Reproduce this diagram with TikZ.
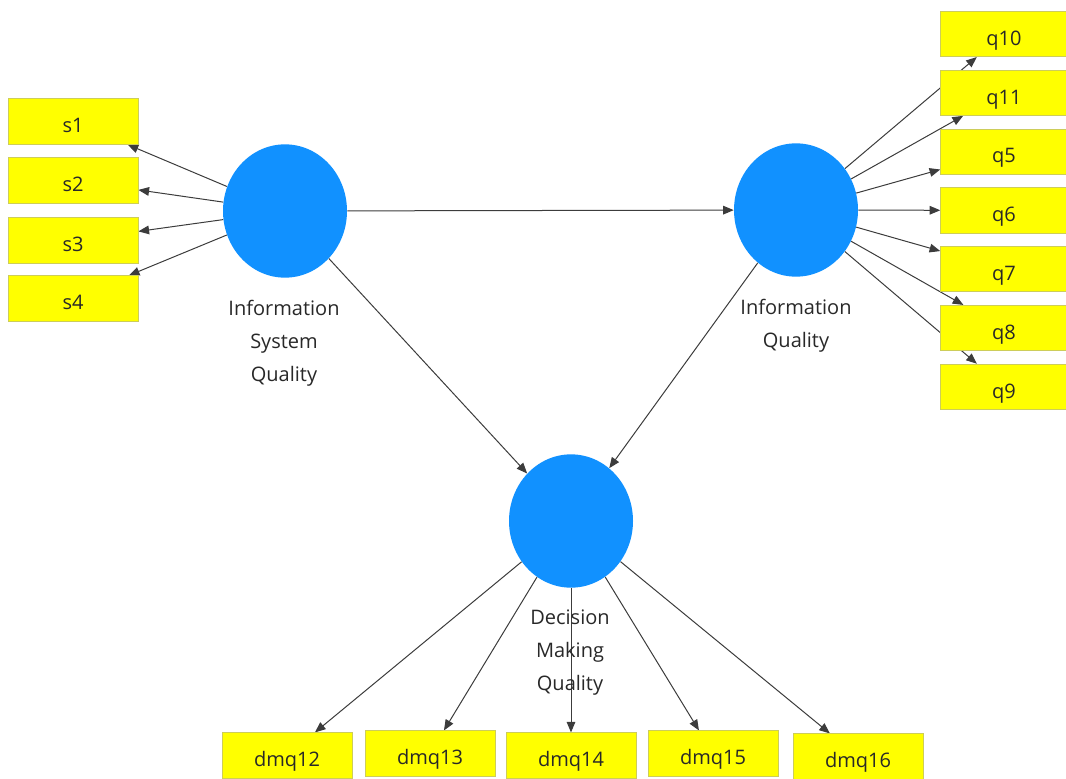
\documentclass[tikz,border=0pt]{standalone}
\usepackage{fontspec}
\setmainfont{Open Sans}
\usepackage{tikz}
\usetikzlibrary{shapes.geometric,arrows.meta,backgrounds}
\definecolor{latentblue}{RGB}{17,145,255}
\definecolor{itemyellow}{RGB}{255,255,0}
\definecolor{itemedge}{RGB}{205,205,90}
\definecolor{pathgray}{RGB}{60,60,60}
\definecolor{labelgray}{RGB}{40,40,40}

\begin{document}
\begin{tikzpicture}[x=0.75pt,y=-0.75pt,
    latent/.style={ellipse, fill=latentblue, draw=none, inner sep=0pt,
        minimum width=93pt, minimum height=100pt},
    item/.style={rectangle, fill=itemyellow, draw=itemedge, line width=0.6pt,
        minimum width=97.5pt, minimum height=34pt, inner sep=0pt,
        text height=17pt, text depth=0pt,
        font=\fontsize{15}{18}\selectfont, text=labelgray},
    caption/.style={align=center, text=labelgray,
        font=\fontsize{15}{24.75}\selectfont},
    loading/.style={draw=pathgray, line width=0.75pt,
        -{Triangle[length=8pt,width=6.5pt]}}]
    \useasboundingbox (0,0) rectangle (1066,778);

    % Latent variables
    \node[latent] (isq) at (285,211) {};
    \node[latent] (iq) at (796,210) {};
    \node[latent] (dmq) at (571,521) {};
    \node[caption] (isqtext) at (284,343) {Information\\System\\Quality};
    \node[caption] (iqtext) at (796,325.5) {Information\\Quality};
    \node[caption] (dmqtext) at (570,653) {Decision\\Making\\Quality};

    % Indicators of information system quality
    \foreach \name/\y in {s1/121.5, s2/180.5, s3/240.5, s4/298.5}
        \node[item] (\name) at (73,\y) {\name};

    % Indicators of information quality
    \foreach \name/\y in {q10/34, q11/92.8, q5/151.6, q6/210.4, q7/269.2, q8/328, q9/386.8}
        \node[item, minimum width=95pt] (\name) at (1004,\y) {\name};

    % Indicators of decision making quality
    \foreach \name/\x/\y in {dmq12/287/755.5, dmq13/430/753.5, dmq14/571/755.5, dmq15/713/753.5, dmq16/858/756.5}
        \node[item] (\name) at (\x,\y) {\name};

    % Paths, kept behind the boxes
    \begin{scope}[on background layer]
        \draw[loading] (isq) -- (iq);
        \draw[loading] (isq) -- (dmq);
        \draw[loading] (iq) -- (dmq);
        \foreach \i in {1,...,4}
            \draw[loading] (isq) -- (s\i);
        \foreach \i in {5,...,11}
            \draw[loading] (iq) -- (q\i);
        \foreach \i in {12,...,16}
            \draw[loading] (dmq) -- (dmq\i);
    \end{scope}
\end{tikzpicture}
\end{document}
